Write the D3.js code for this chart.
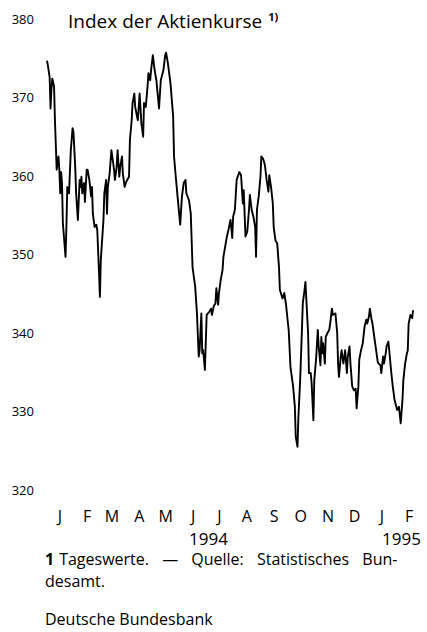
<!DOCTYPE html>
<html>
<head>
<meta charset="utf-8">
<script src="https://cdn.jsdelivr.net/npm/d3@7"></script>
<style>
  body { margin: 0; background: #fff; }
  svg { display: block; font-family: "Open Sans", sans-serif; }
</style>
</head>
<body>
<script>
// ---- data (daily share price index, 1994 / early 1995) ----
// days since 1 Jan 1994
const days = [0,1,3,4,5,6,8,9,11,13,
  14,15,16,17,18,21,22,23,25,27,
  29,30,32,33,35,37,38,39,40,42,
  43,45,46,48,50,51,52,54,56,57,
  59,60,61,62,64,65,67,68,69,71,
  73,74,76,77,79,80,82,83,85,86,
  88,90,93,94,96,97,99,100,102,103,
  105,107,109,110,112,114,115,117,118,120,
  122,124,125,127,129,132,134,135,137,140,
  143,144,146,148,151,153,155,157,158,161,
  163,165,168,170,172,173,175,176,177,179,
  181,184,186,187,189,191,192,194,195,197,
  199,200,202,204,206,208,209,210,211,213,
  215,218,220,222,223,225,227,229,230,232,
  234,236,237,238,240,242,243,245,247,249,
  251,252,254,256,257,259,261,263,264,267,
  269,271,273,274,276,279,281,282,284,285,
  287,289,290,292,293,295,296,297,299,300,
  302,303,305,307,308,310,311,312,313,315,
  316,318,320,321,323,324,327,329,330,331,
  333,334,336,338,340,341,343,344,346,348,
  350,351,353,354,356,358,360,362,363,365,
  366,368,369,371,372,375,376,378,379,381,
  382,384,385,387,388,390,392,394,396,397,
  399,401,403,404,406,408,409,410,412,414,415];

const indexValues = [374.7,374.1,372.6,368.6,371.0,372.4,371.4,367.1,360.8,362.5,
  360.8,357.8,360.5,359.1,354.0,349.7,353.5,358.6,357.8,363.3,
  366.1,365.6,361.2,357.8,354.4,359.5,358.6,359.9,357.8,359.1,
  356.7,360.8,360.8,359.5,357.4,358.6,355.2,353.5,353.8,353.1,
  347.6,344.6,349.3,351.0,354.4,357.8,359.5,355.2,358.6,360.3,
  363.3,362.5,360.8,359.5,361.2,363.3,359.9,361.2,362.5,360.3,
  358.6,359.3,359.9,364.6,367.1,369.3,370.5,368.8,367.6,367.1,
  370.5,366.7,365.0,369.3,368.8,371.4,373.1,372.2,373.5,375.4,
  373.5,372.2,371.0,368.6,372.2,373.5,375.4,375.7,374.4,371.8,
  367.6,362.5,359.9,357.4,353.8,357.4,359.1,359.5,357.8,356.9,
  355.2,348.4,345.9,342.5,337.0,337.8,342.5,337.4,337.8,335.3,
  342.3,342.7,343.1,342.3,343.4,343.8,345.7,343.6,345.1,346.8,
  348.0,349.7,351.0,352.3,353.3,354.4,353.3,352.1,354.8,355.7,
  359.5,360.5,360.1,356.5,358.2,352.3,352.9,355.7,357.6,355.7,
  354.8,353.5,349.7,355.7,357.4,359.9,362.5,362.2,361.4,359.5,
  358.0,360.1,358.6,356.5,353.5,351.8,351.4,348.4,345.5,344.4,
  345.1,343.6,341.4,340.4,335.7,333.2,330.6,326.8,325.5,329.3,
  334.0,340.4,343.8,345.5,346.5,342.1,340.0,334.9,334.9,333.6,
  328.9,334.0,336.6,340.4,338.3,335.9,339.5,337.4,338.7,336.1,
  339.5,340.0,340.4,341.2,343.1,342.3,342.5,340.0,336.1,334.4,
  337.0,337.8,336.1,337.8,334.9,337.0,338.3,336.1,333.2,332.7,
  332.9,330.4,333.2,336.6,337.8,338.7,340.8,341.7,341.2,342.1,
  343.1,341.7,341.2,339.5,338.7,336.3,336.1,335.9,334.9,337.0,
  336.1,337.4,338.3,338.9,337.8,335.3,333.2,331.5,330.6,330.2,
  330.6,328.5,331.5,334.0,336.1,337.4,337.8,341.2,342.3,341.9,342.9];

const yTicks = [320, 330, 340, 350, 360, 370, 380];
const monthLabels = ["J","F","M","A","M","J","J","A","S","O","N","D","J","F"];
const yearLabels = ["1994", "1995"];

// ---- setup ----
const W = 427, H = 632;
const start = new Date(1994, 0, 1);

const svg = d3.select("body").append("svg")
    .attr("width", W)
    .attr("height", H);

var x = d3.scaleTime()
    .domain([start, new Date(1995, 2, 1)])
    .range([47, 421]);

var y = d3.scaleLinear()
    .domain([320, 380])
    .range([490, 19]);

const data = d3.zip(days, indexValues).map(function(d) {
  return { date: d3.timeDay.offset(start, d[0]), value: d[1] };
});

// y axis: numbers only, no line, no ticks
const yAxis = svg.append("g")
    .attr("transform", "translate(34,0)")
    .call(d3.axisLeft(y).tickValues(yTicks).tickSize(0).tickPadding(0));
yAxis.select(".domain").remove();
yAxis.selectAll("text")
    .attr("font-family", "Open Sans, sans-serif")
    .attr("font-size", 13)
    .attr("fill", "#000");

// x axis: month initials in the middle of each month
const monthMids = d3.range(monthLabels.length).map(function(i) {
  return new Date(1994, i, 15);
});
const xAxis = svg.append("g")
    .attr("transform", "translate(0,511)")
    .call(d3.axisBottom(x)
      .tickValues(monthMids)
      .tickSize(0)
      .tickPadding(0)
      .tickFormat(function(d, i) { return monthLabels[i]; }));
xAxis.select(".domain").remove();
xAxis.selectAll("text")
    .attr("font-family", "Open Sans, sans-serif")
    .attr("font-size", 16)
    .attr("fill", "#000");

// year labels
svg.append("text")
    .attr("x", x(new Date(1994, 6, 3)))
    .attr("y", 545)
    .attr("text-anchor", "middle")
    .attr("font-size", 17)
    .text(yearLabels[0]);
svg.append("text")
    .attr("x", x(new Date(1995, 2, 1)))
    .attr("y", 545)
    .attr("text-anchor", "end")
    .attr("font-size", 17)
    .text(yearLabels[1]);

// the index line
const line = d3.line()
    .x(function(d) { return x(d.date); })
    .y(function(d) { return y(d.value); });

svg.append("path")
    .datum(data)
    .attr("fill", "none")
    .attr("stroke", "#000")
    .attr("stroke-width", 1.9)
    .attr("stroke-linejoin", "round")
    .attr("d", line);

// title
const title = svg.append("text")
    .attr("x", 68)
    .attr("y", 28)
    .attr("font-size", 19)
    .text("Index der Aktienkurse");
svg.append("text")
    .attr("x", 68 + title.node().getComputedTextLength() + 6)
    .attr("y", 21)
    .attr("font-size", 11)
    .attr("font-weight", "bold")
    .text("1)");

// footnote (first line justified and hyphenated like the print)
const noteNum = svg.append("text")
    .attr("x", 45)
    .attr("y", 565)
    .attr("font-size", 16)
    .attr("font-weight", "bold")
    .text("1");
svg.append("text")
    .attr("x", 45 + noteNum.node().getComputedTextLength() + 5)
    .attr("y", 565)
    .attr("font-size", 16)
    .attr("word-spacing", 9)
    .text("Tageswerte. — Quelle: Statistisches Bun-");
svg.append("text")
    .attr("x", 45)
    .attr("y", 587)
    .attr("font-size", 16)
    .text("desamt.");

svg.append("text")
    .attr("x", 45)
    .attr("y", 625)
    .attr("font-size", 16)
    .text("Deutsche Bundesbank");
</script>
</body>
</html>
